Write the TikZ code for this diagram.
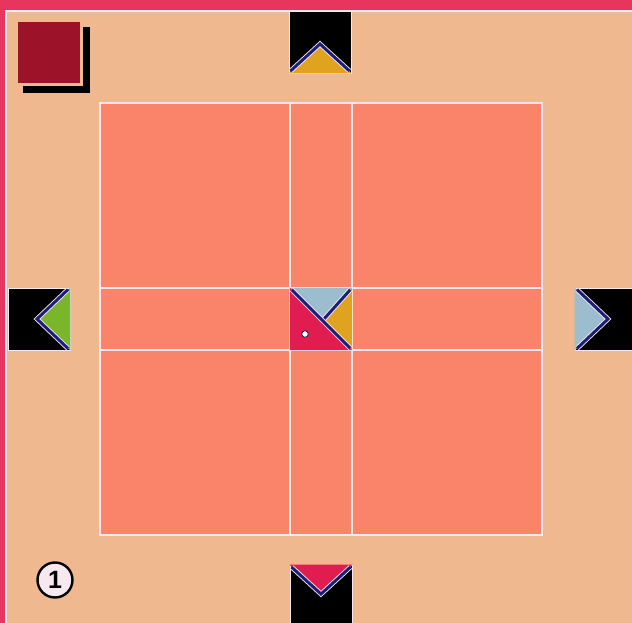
\documentclass[tikz,border=0pt]{standalone}
\usepackage{fontspec}
\setmainfont{Liberation Sans}
\usepackage{tikz}
\usepackage{xcolor}
\definecolor{rosa}{HTML}{E8355E}
\definecolor{piel}{HTML}{F0B88E}
\definecolor{salmon}{HTML}{F9846A}
\definecolor{granate}{HTML}{9C1229}
\definecolor{ambar}{HTML}{DFA320}
\definecolor{lima}{HTML}{7BB52A}
\definecolor{celeste}{HTML}{9BBDCD}
\definecolor{carmin}{HTML}{E11C50}
\definecolor{marino}{HTML}{1C1F7A}
\definecolor{borde}{HTML}{F6E8EE}

\begin{document}
\begin{tikzpicture}[x=1pt,y=-1pt,
    markbox/.style={fill=black,draw=borde,line width=0.8pt,minimum size=62pt,inner sep=0pt},
    rib/.style={draw=borde,double=marino,double distance=3pt,line width=0.9pt,line join=miter}]
      \clip (0,0) rectangle (632,623);
      \fill[rosa] (0,0) rectangle (632,623);
      \fill[piel,draw=borde,line width=2pt] (6,11) rectangle (640,630);
      % sello
      \fill[black] (23,27) rectangle (90,93);
      \fill[piel] (18,22) rectangle (83,86);
      \node[fill=granate,minimum width=62pt,minimum height=61pt,inner sep=0pt] (sello) at (49,52.5) {};
      % tablero
      \node[fill=salmon,draw=borde,line width=1.5pt,minimum width=442pt,minimum height=432pt,inner sep=0pt] (board) at (321,319) {};
      \node[minimum size=62pt,inner sep=0pt] (mid) at (321,319) {};
      \draw[borde,line width=1.5pt] (mid.north west |- board.north) -- (mid.south west |- board.south);
      \draw[borde,line width=1.5pt] (mid.north east |- board.north) -- (mid.south east |- board.south);
      \draw[borde,line width=1.5pt] (board.west |- mid.north west) -- (board.east |- mid.north east);
      \draw[borde,line width=1.5pt] (board.west |- mid.south west) -- (board.east |- mid.south east);
      \fill[celeste] (mid.north west) -- (mid.north east) -- (mid.center) -- cycle;
      \fill[ambar] (mid.north east) -- (mid.south east) -- (mid.center) -- cycle;
      \fill[carmin] (mid.north west) -- (mid.center) -- (mid.south east) -- (mid.south west) -- cycle;
      \draw[rib] ([shift={(-2pt,-2pt)}]mid.north east) -- ([xshift=3pt]mid.center);
      \draw[rib] ([shift={(2pt,-2pt)}]mid.north west) -- ([shift={(-2pt,2pt)}]mid.south east);
      \node[circle,fill=white,draw=marino!60!black,line width=0.7pt,minimum size=6.5pt,inner sep=0pt] (punto) at (305,334) {};
      % marcas
      \node[markbox] (top) at (320,42) {};
      \fill[ambar] (top.south west) -- (top.center) -- (top.south east) -- cycle;
      \draw[rib] ([shift={(2pt,2.5pt)}]top.south west) -- ([yshift=-2pt]top.center) -- ([shift={(-2pt,2.5pt)}]top.south east);
      \node[markbox] (left) at (39,319) {};
      \fill[lima] (left.north east) -- (left.center) -- (left.south east) -- cycle;
      \draw[rib] ([shift={(-2.5pt,-2pt)}]left.north east) -- ([xshift=-2pt]left.center) -- ([shift={(-2.5pt,2pt)}]left.south east);
      \node[markbox] (right) at (606,319) {};
      \fill[celeste] (right.north west) -- (right.center) -- (right.south west) -- cycle;
      \draw[rib] ([shift={(2.5pt,-2pt)}]right.north west) -- ([xshift=2pt]right.center) -- ([shift={(2.5pt,2pt)}]right.south west);
      \node[markbox] (bottom) at (321,596) {};
      \fill[carmin] (bottom.north west) -- (bottom.center) -- (bottom.north east) -- cycle;
      \draw[rib] ([shift={(2pt,-2.5pt)}]bottom.north west) -- ([yshift=2pt]bottom.center) -- ([shift={(-2pt,-2.5pt)}]bottom.north east);
      % numero
      \node[circle,draw=black,line width=2.4pt,fill=borde,minimum size=35pt,inner sep=0pt,font=\fontsize{25}{25}\selectfont\bfseries] (uno) at (55,580) {1};
    \end{tikzpicture}
\end{document}
